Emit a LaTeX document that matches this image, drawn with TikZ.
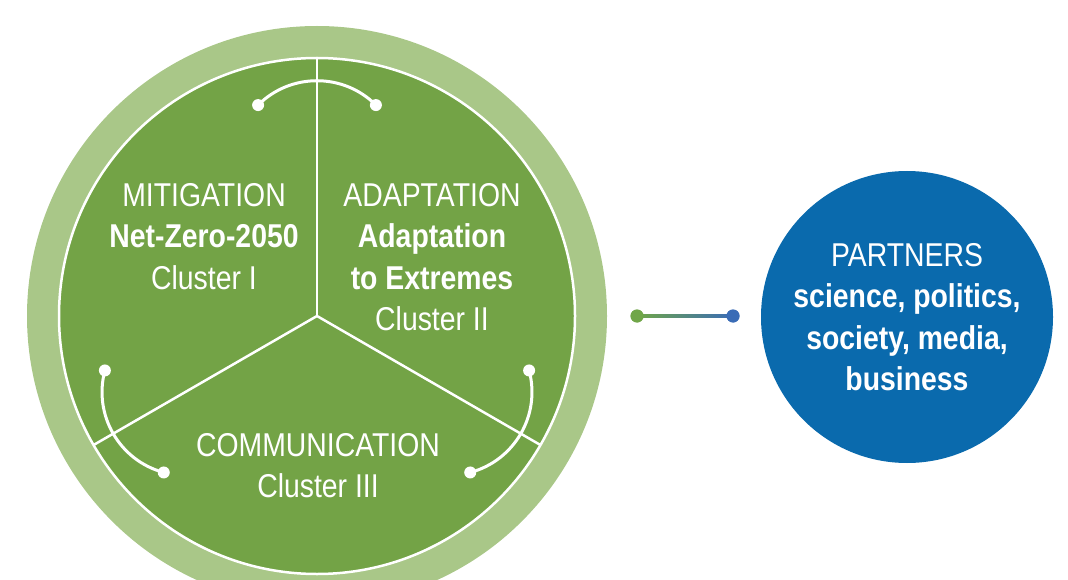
\documentclass[tikz,border=0pt]{standalone}
\usepackage{fontspec}
\setmainfont{Liberation Sans}[FakeStretch=0.86]
\usetikzlibrary{calc}
\definecolor{ringgreen}{RGB}{169,199,136}
\definecolor{clustergreen}{RGB}{115,163,70}
\definecolor{partnerblue}{RGB}{10,106,173}
\definecolor{linkgreen}{RGB}{112,166,72}
\definecolor{linkblue}{RGB}{58,108,182}
\begin{document}
\begin{tikzpicture}[x=1pt,y=-1pt,every node/.style={text=white,align=center,inner sep=0pt,font=\fontsize{33pt}{41.5pt}\selectfont},
  dot/.style={circle,fill=white,minimum size=12pt},
  divider/.style={white,line width=2.5pt},
  bond/.style={white,line width=3pt}]
\useasboundingbox (0,0) rectangle (1068,580);
\clip (0,0) rectangle (1068,580);
\coordinate (c) at (317,316);
% big circle
\fill[ringgreen] (c) circle[radius=290pt];
\fill[clustergreen] (c) circle[radius=258pt];
\draw[divider] (c) circle[radius=258pt];
\coordinate (e1) at ($(c)+(90:258pt)$);\coordinate (e2) at ($(c)+(210:258pt)$);\coordinate (e3) at ($(c)+(330:258pt)$);
\draw[divider] (c)--(e1);\draw[divider] (c)--(e2);\draw[divider] (c)--(e3);
% links between clusters
\node[dot] (t1) at ($(c)+(105.6:219pt)$) {};\node[dot] (t2) at ($(c)+(74.4:219pt)$) {};
\node[dot] (l1) at ($(c)+(225.6:219pt)$) {};\node[dot] (l2) at ($(c)+(194.4:219pt)$) {};
\node[dot] (r1) at ($(c)+(345.6:219pt)$) {};\node[dot] (r2) at ($(c)+(314.4:219pt)$) {};
\draw[bond] (t1.center) to[bend left=45] (t2.center);
\draw[bond] (l1.center) to[bend left=45] (l2.center);
\draw[bond] (r1.center) to[bend left=45] (r2.center);
% cluster texts
\node[anchor=north] (mit) at (204,183) {MITIGATION\\\textbf{Net-Zero-2050}\\Cluster I};
\node[anchor=north] (ada) at (432,183) {ADAPTATION\\\textbf{Adaptation}\\\textbf{to Extremes}\\Cluster II};
\node[anchor=north] (com) at (318,433) {COMMUNICATION\\Cluster III};
% partners
\node[circle,fill=partnerblue,minimum size=292pt] (par) at (907,317) {PARTNERS\\\textbf{science, politics,}\\\textbf{society, media,}\\\textbf{business}};
\node[circle,fill=linkgreen,minimum size=13pt] (lg) at (637,316) {};
\node[circle,fill=linkblue,minimum size=13pt] (lb) at (733,316) {};
\shade[left color=linkgreen,right color=linkblue] ([yshift=-1.5pt]lg.center) rectangle ([yshift=1.5pt]lb.center);
\fill[linkgreen] (lg) circle[radius=6.5pt];\fill[linkblue] (lb) circle[radius=6.5pt];
\end{tikzpicture}
\end{document}
